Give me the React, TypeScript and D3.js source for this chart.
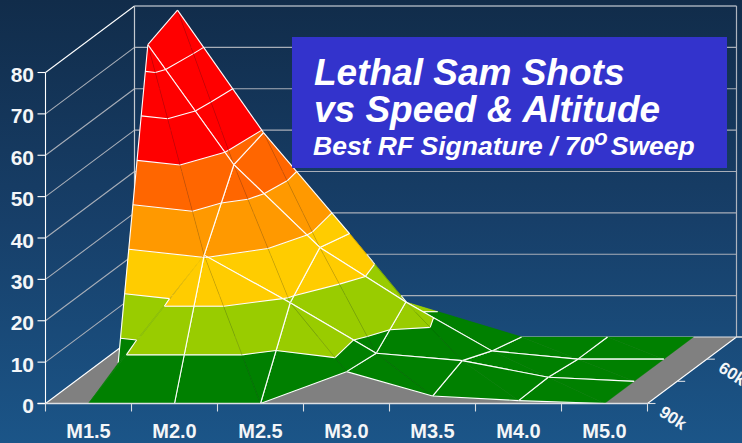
import React from "react";
import * as d3 from "d3";

const W = 742, H = 443;
const categories = ["M1.5", "M2.0", "M2.5", "M3.0", "M3.5", "M4.0", "M5.0"];
const altitudes = ["90k", "75k", "60k", "45k"];
const altitudeLabelsShown = ["90k", "60k"];
const valueTicks = [0, 10, 20, 30, 40, 50, 60, 70, 80];

const row90k = [0, 0, 0, 7.7, 1.8, 0.7, 0];
const row75k = [4.4, 30.5, 19, 6.8, 5, 1, 0];
const row60k = [76, 47, 27, 13.8, 2, 0, 0];
const row45k = [79, 49.4, 25, 0, 0, 0, 0];
const surface = [row90k, row75k, row60k, row45k];

// Quads whose seam runs from front-left to back-right ("row:col"); others run back-left to front-right
const frontLeftSeams = ["0:0", "2:3"];

const bandLevels = [0, 10, 20, 30, 40, 50, 60, 70, 80.01];
const bandColors = ["#008000", "#99CC00", "#FFCC00", "#FF9900", "#FF6600", "#FF0000", "#FF0000", "#FF0000"];

const y = d3.scaleLinear().domain([0, 80]).range([403.5, 72.5]);
const xEdge = d3.scaleBand<string>().domain(categories).range([45.5, 647.5]);
const dx = d3.scaleLinear().domain([0, 1]).range([0, 89]);
const dy = d3.scaleLinear().domain([0, 1]).range([0, -66.5]);
const depth = d3.scalePoint<string>().domain(altitudes).range([0, 1]);

type P = { x: number; y: number; v: number };
const pt = (c: number, r: number): P => {
  const d = depth(altitudes[r])!;
  const v = surface[r][c];
  return { x: xEdge(categories[c])! + xEdge.bandwidth() / 2 + dx(d), y: y(v) + dy(d), v };
};
const lerp = (a: P, b: P, level: number): P => {
  const t = (level - a.v) / (b.v - a.v);
  return { x: a.x + (b.x - a.x) * t, y: a.y + (b.y - a.y) * t, v: level };
};
const clip = (poly: P[], level: number, keepAbove: boolean): P[] => {
  const out: P[] = [];
  poly.forEach((a, k) => {
    const b = poly[(k + 1) % poly.length];
    const ina = keepAbove ? a.v >= level : a.v <= level;
    const inb = keepAbove ? b.v >= level : b.v <= level;
    if (ina) out.push(a);
    if (ina !== inb) out.push(lerp(a, b, level));
  });
  return out;
};
const poly = (pts: P[]) => d3.line<P>().x((p) => p.x).y((p) => p.y)(pts) + "Z";
const seg = (a: P, b: P) => `M${a.x},${a.y}L${b.x},${b.y}`;

function triangle(tri: P[], key: string) {
  const parts: React.ReactNode[] = [];
  bandColors.forEach((color, b) => {
    const lo = bandLevels[b], hi = bandLevels[b + 1];
    const pg = clip(clip(tri, lo, true), hi, false);
    if (pg.length >= 3) parts.push(<path key={`${key}b${b}`} d={poly(pg)} fill={color} stroke={color} strokeWidth={0.4} />);
  });
  bandLevels.slice(1, 8).forEach((lv) => {
    const cross: P[] = [];
    tri.forEach((a, k) => {
      const c = tri[(k + 1) % 3];
      if ((a.v < lv && c.v >= lv) || (a.v >= lv && c.v < lv)) cross.push(lerp(a, c, lv));
    });
    if (cross.length === 2) parts.push(<path key={`${key}c${lv}`} d={seg(cross[0], cross[1])} stroke="#fff" strokeWidth={1.1} fill="none" />);
  });
  return parts;
}

function Surface() {
  const out: React.ReactNode[] = [];
  for (let r = altitudes.length - 2; r >= 0; r--) {
    for (let c = categories.length - 2; c >= 0; c--) {
      const fl = pt(c, r), fr = pt(c + 1, r), bl = pt(c, r + 1), br = pt(c + 1, r + 1);
      const flSeam = frontLeftSeams.includes(`${r}:${c}`);
      const tris = flSeam ? [[fl, fr, br], [fl, br, bl]] : [[bl, fr, fl], [bl, br, fr]];
      const k = `q${r}-${c}`;
      tris.forEach((t, i) => out.push(...triangle(t, `${k}t${i}`)));
      const sd = flSeam ? seg(fl, br) : seg(bl, fr);
      if (c < 4 && !flSeam) out.push(<path key={`${k}s`} d={sd} stroke="#000" strokeOpacity={0.22} strokeWidth={0.6} fill="none" />);
      const edges: [P, P, boolean][] = [
        [fl, fr, !(r === 1 && c === 0)],
        [bl, br, r + 1 !== 3 ? !(r + 1 === 1 && c === 0) : c < 2],
        [fl, bl, !(c === 0 && r === 0) && !(c === 3 && r === 2)],
        [fr, br, c + 1 !== 6 && !(c + 1 === 3 && r === 2)],
      ];
      edges.forEach(([a, b, on], i) => {
        if (on) out.push(<path key={`${k}e${i}`} d={seg(a, b)} stroke="#fff" strokeWidth={1.1} fill="none" />);
      });
    }
  }
  return <g strokeLinejoin="round">{out}</g>;
}

export default function App() {
  const font = "'Liberation Sans', Arial, sans-serif";
  const D = { x: dx(1), y: dy(1) };
  const xL = xEdge.range()[0], xR = xEdge.range()[1];
  const floorY = y(0);
  const floor = [
    [xL, floorY], [xL + D.x, floorY + D.y], [xR + D.x, floorY + D.y], [xR, floorY],
  ] as [number, number][];
  const xTicks = [xL, ...categories.map((c) => xEdge(c)! + xEdge.bandwidth())];
  return (
    <svg width={W} height={H} style={{ position: "fixed", left: 0, top: 0 }} fontFamily={font}>
      <defs>
        <linearGradient id="bg" x1="0" y1="0" x2="0" y2="1">
          <stop offset="0" stopColor="#112C4A" />
          <stop offset="0.5" stopColor="#173F69" />
          <stop offset="1" stopColor="#1B5588" />
        </linearGradient>
      </defs>
      <rect width={W} height={H} fill="url(#bg)" />
      {/* walls */}
      {valueTicks.slice(1, -1).map((v) => (
        <g key={v} stroke="#A8AEB8" strokeWidth={1.1}>
          <line x1={xL + D.x} x2={xR + D.x} y1={y(v) + D.y} y2={y(v) + D.y} />
          <line x1={xL} x2={xL + D.x} y1={y(v)} y2={y(v) + D.y} />
        </g>
      ))}
      <line x1={xL + D.x} x2={xR + D.x} y1={y(80) + D.y} y2={y(80) + D.y} stroke="#E8EAEE" strokeWidth={1.2} />
      <line x1={xL} x2={xL + D.x} y1={y(80)} y2={y(80) + D.y} stroke="#fff" strokeWidth={1.1} />
      <line x1={xL + D.x} x2={xL + D.x} y1={y(80) + D.y} y2={floorY + D.y} stroke="#C4C9D0" strokeWidth={1.2} />
      <line x1={xR + D.x} x2={xR + D.x} y1={y(80) + D.y} y2={floorY + D.y} stroke="#AEB4BE" strokeWidth={1.2} />
      {/* floor */}
      <path d={d3.line()(floor) + "Z"} fill="#808080" />
      <line x1={xL} x2={xL + D.x} y1={floorY} y2={floorY + D.y} stroke="#fff" strokeWidth={1.1} />
      <line x1={xR} x2={xR + D.x} y1={floorY} y2={floorY + D.y} stroke="#fff" strokeWidth={1.1} />
      <line x1={xL + D.x} x2={W} y1={floorY + D.y} y2={floorY + D.y} stroke="#DDE0E4" strokeWidth={1.1} />

      <Surface />

      {/* axes */}
      <line x1={xL} x2={xL} y1={y(80)} y2={floorY} stroke="#fff" strokeWidth={1.1} />
      <line x1={xL - 8} x2={xR} y1={floorY} y2={floorY} stroke="#DDE0E4" strokeWidth={1.5} />
      {valueTicks.map((v) => (
        <g key={v}>
          <line x1={xL - 8} x2={xL} y1={y(v)} y2={y(v)} stroke="#fff" strokeWidth={1.1} />
          <text x={34} y={y(v) + 9.5} textAnchor="end" fontSize={21} fontWeight="bold" fill="#F4F6F8">{v}</text>
        </g>
      ))}
      {xTicks.map((t) => (
        <line key={t} x1={t} x2={t} y1={floorY} y2={floorY + 8} stroke="#D8DCE2" strokeWidth={1.1} />
      ))}
      {categories.map((c) => (
        <text key={c} x={xEdge(c)! + xEdge.bandwidth() / 2} y={438} textAnchor="middle" fontSize={20} fontWeight="bold" fill="#F4F6F8">{c}</text>
      ))}
      {altitudes.map((a) => {
        const d = depth(a)!;
        const tx = xR + dx(d), ty = floorY + dy(d);
        return (
          <g key={a}>
            <line x1={tx} x2={tx + 8} y1={ty} y2={ty} stroke="#D8DCE2" strokeWidth={1.1} />
            {altitudeLabelsShown.includes(a) && (
              <text transform={`translate(${tx + 25},${ty + 15}) rotate(33)`} textAnchor="middle" dy={5} fontSize={17} fontWeight="bold" fill="#F4F6F8">{a}</text>
            )}
          </g>
        );
      })}

      {/* title */}
      <rect x={292} y={37} width={435} height={131} fill="#3333CC" />
      <g fill="#fff" fontWeight="bold" fontStyle="italic">
        <text x={314} y={85} fontSize={37}>Lethal Sam Shots</text>
        <text x={314} y={122} fontSize={37}>vs Speed &amp; Altitude</text>
        <text x={313} y={155} fontSize={26.5}>
          Best RF Signature / 70<tspan fontSize={22} dy={-10}>o</tspan><tspan dy={10} dx={3}>Sweep</tspan>
        </text>
      </g>
    </svg>
  );
}
